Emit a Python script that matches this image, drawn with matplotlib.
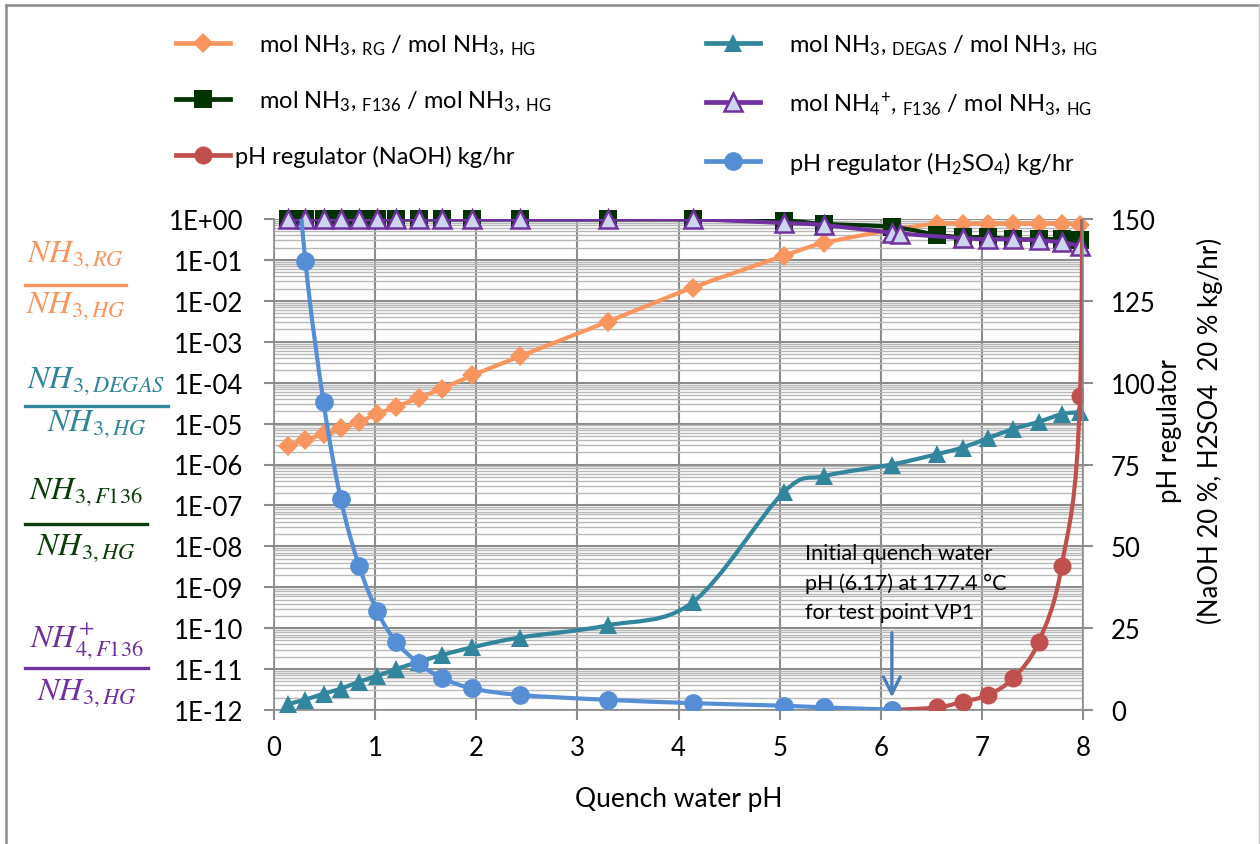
import numpy as np
import matplotlib
matplotlib.use('Agg')
import matplotlib.pyplot as plt
from matplotlib.path import Path
from matplotlib.patches import PathPatch
from matplotlib.lines import Line2D
from matplotlib.ticker import FixedLocator, LogLocator, FuncFormatter, NullFormatter

plt.rcParams['font.family'] = ['Lato', 'DejaVu Sans']
plt.rcParams['mathtext.fontset'] = 'custom'
plt.rcParams['mathtext.rm'] = 'Lato'
plt.rcParams['mathtext.it'] = 'Lato:italic'

# --- data ---
ph = [0.14, 0.31, 0.49, 0.66, 0.84, 1.02, 1.21, 1.43, 1.66, 1.96, 2.43, 3.30,
      4.14, 5.04, 5.44, 6.11, 6.56, 6.81, 7.06, 7.31, 7.56, 7.79, 7.97]
nh3_rg = [2.9e-6, 4.0e-6, 5.5e-6, 7.6e-6, 1.1e-5, 1.7e-5, 2.6e-5, 4.2e-5, 7.2e-5,
          1.5e-4, 4.4e-4, 3.1e-3, 2.1e-2, 0.126, 0.26, 0.54, 0.77, 0.77, 0.77,
          0.77, 0.77, 0.77, 0.72]
nh3_degas = [1.4e-12, 1.8e-12, 2.5e-12, 3.3e-12, 4.9e-12, 6.8e-12, 1.0e-11, 1.5e-11,
             2.2e-11, 3.4e-11, 5.9e-11, 1.17e-10, 4.3e-10, 2.1e-7, 5.2e-7, 1.0e-6,
             1.8e-6, 2.6e-6, 4.4e-6, 7.4e-6, 1.1e-5, 1.7e-5, 1.9e-5]
nh3_f136 = [0.98, 0.98, 0.98, 0.98, 0.98, 0.98, 0.98, 0.98, 0.98, 0.98, 0.98, 0.98,
            0.98, 0.91, 0.76, 0.64, 0.41, 0.36, 0.36, 0.32, 0.32, 0.32, 0.30]
ph_nh4 = [0.14, 0.31, 0.49, 0.66, 0.84, 1.02, 1.21, 1.43, 1.66, 1.96, 2.43, 3.30,
          4.14, 5.04, 5.44, 6.11, 6.19, 6.81, 7.06, 7.31, 7.56, 7.79, 7.97]
nh4_f136 = [0.98, 0.98, 0.98, 0.98, 0.98, 0.98, 0.98, 0.98, 0.98, 0.98, 0.98, 0.98,
            0.98, 0.80, 0.71, 0.46, 0.44, 0.34, 0.32, 0.32, 0.30, 0.27, 0.22]
ph_naoh = [6.11, 6.56, 6.81, 7.06, 7.31, 7.56, 7.79, 7.97, 8.0]
naoh = [0, 0.8, 2.5, 4.6, 9.7, 20.7, 44.1, 95.8, 250]
ph_h2so4 = [0.14, 0.31, 0.49, 0.66, 0.84, 1.02, 1.21, 1.43, 1.66, 1.96, 2.43, 3.30,
            4.14, 5.04, 5.44, 6.11]
h2so4 = [200, 137.3, 94.0, 64.5, 44.1, 30.2, 20.7, 14.3, 9.8, 6.6, 4.6, 3.1,
         2.1, 1.3, 0.8, 0.1]

c_rg, c_degas, c_f136, c_nh4 = '#F9955E', '#31859C', '#003300', '#7030A0'
c_naoh, c_h2so4 = '#C0504D', '#558ED5'
grey = '#8C8C8C'


def smooth(ax, x, y, color, z, logy=False, lw=3.0):
    # Excel style smoothed line: cubic bezier through the points
    x = np.asarray(x, float)
    y = np.log10(y) if logy else np.asarray(y, float)
    pts = np.column_stack([x, y])
    n = len(pts)
    verts = [pts[0]]
    codes = [Path.MOVETO]
    for i in range(n - 1):
        p0, p1 = pts[max(i - 1, 0)], pts[i]
        p2, p3 = pts[i + 1], pts[min(i + 2, n - 1)]
        verts += [p1 + (p2 - p0) / 6, p2 - (p3 - p1) / 6, p2]
        codes += [Path.CURVE4] * 3
    verts = np.array(verts)
    if logy:
        verts[:, 1] = 10 ** verts[:, 1]
    ax.add_patch(PathPatch(Path(verts, codes), fill=False, ec=color, lw=lw,
                           zorder=z, capstyle='round', joinstyle='round'))


W, H = 1260, 845
fig = plt.figure(figsize=(W / 100, H / 100), dpi=100)
ax = fig.add_axes([274 / W, 134 / H, 809 / W, 491 / H])

ax.set_yscale('log')
ax.set_ylim(1e-12, 1)
ax.set_xlim(0, 8)
ax.set_xticks(range(9))
ax.yaxis.set_major_locator(FixedLocator(10.0 ** np.arange(-12, 1)))
ax.yaxis.set_major_formatter(FuncFormatter(lambda v, p: f'{v:.0E}'))
ax.yaxis.set_minor_locator(LogLocator(base=10, subs=np.arange(2, 10), numticks=100))
ax.yaxis.set_minor_formatter(NullFormatter())
ax.set_axisbelow(True)
ax.grid(True, which='major', axis='both', color=grey, lw=1.5)
ax.grid(True, which='minor', axis='y', color='#B8B8B8', lw=1.0)
ax.tick_params(which='major', length=7, width=1.5, color=grey, labelsize=18.5)
ax.tick_params(which='minor', length=0)
ax.tick_params(axis='y', pad=15)
ax.tick_params(axis='x', pad=11)
for s in ['top', 'right']:
    ax.spines[s].set_visible(False)
for s in ['left', 'bottom']:
    ax.spines[s].set_color(grey)
    ax.spines[s].set_linewidth(1.2)

# NH3 ratio series (left, log)
smooth(ax, ph, nh3_rg, c_rg, 2, logy=True)
ax.plot(ph, nh3_rg, ls='none', marker='D', ms=10, color=c_rg, mew=0, zorder=2.5, clip_on=False)
smooth(ax, ph, nh3_degas, c_degas, 3, logy=True)
ax.plot(ph, nh3_degas, ls='none', marker='^', ms=13, color=c_degas, mew=0, zorder=3.5, clip_on=False)
smooth(ax, ph, nh3_f136, c_f136, 4, logy=True)
ax.plot(ph, nh3_f136, ls='none', marker='s', ms=12.5, color=c_f136, mew=0, zorder=4.5, clip_on=False)
smooth(ax, ph_nh4, nh4_f136, c_nh4, 5, logy=True)
ax.plot(ph_nh4, nh4_f136, ls='none', marker='^', ms=13, mfc='#CDD5EE', mec=c_nh4, mew=1.8,
        zorder=5.5, clip_on=False)

# pH regulator series (right, linear)
ax2 = ax.twinx()
ax2.set_ylim(0, 150)
ax2.set_yticks(range(0, 151, 25))
ax2.tick_params(length=7, width=1.5, color=grey, labelsize=18.5, pad=13)
for s in ['top', 'left', 'bottom']:
    ax2.spines[s].set_visible(False)
ax2.spines['right'].set_color(grey)
ax2.spines['right'].set_linewidth(1.2)

smooth(ax2, ph_naoh, naoh, c_naoh, 2)
ax2.plot(ph_naoh, naoh, ls='none', marker='o', ms=13, color=c_naoh, mew=0, zorder=2.5)
smooth(ax2, ph_h2so4, h2so4, c_h2so4, 3)
ax2.plot(ph_h2so4, h2so4, ls='none', marker='o', ms=13.5, color=c_h2so4, mew=0, zorder=3.5)

# annotation
ax.annotate('', xy=(ph_h2so4[-1], 0.02), xytext=(ph_h2so4[-1], 0.163),
            xycoords=('data', 'axes fraction'), textcoords=('data', 'axes fraction'),
            arrowprops=dict(arrowstyle='->, head_length=1.2, head_width=0.6',
                            color='#4A7EBB', lw=2.4), zorder=10)
ax.text(0.656, 0.34, 'Initial quench water\npH (6.17) at 177.4 °C\nfor test point VP1',
        transform=ax.transAxes, ha='left', va='top', fontsize=15.5, linespacing=1.55, zorder=10)

# axis titles
fig.text(678.5 / W, 1 - 800 / H, 'Quench water pH', ha='center', va='center', fontsize=19)
fig.text(1170 / W, 1 - 431 / H, 'pH regulator', rotation=90, ha='center', va='center', fontsize=18.5)
fig.text(1210 / W, 1 - 431 / H, '(NaOH 20 %, H2SO4  20 % kg/hr)', rotation=90,
         ha='center', va='center', fontsize=18.5)

# left-hand fraction labels
def frac(num, den, color, x1, y_num, y_bar, y_den):
    cx = (25 + x1) / 2 / W
    fig.text(cx, 1 - y_num / H, num, color=color, ha='center', va='baseline',
             fontsize=23, math_fontfamily='stix')
    fig.add_artist(Line2D([25 / W, x1 / W], [1 - y_bar / H] * 2, color=color, lw=2.4,
                          transform=fig.transFigure))
    fig.text(cx, 1 - y_den / H, den, color=color, ha='center', va='baseline',
             fontsize=23, math_fontfamily='stix')


frac(r'$NH_{3,RG}$', r'$NH_{3,HG}$', c_rg, 126, 262, 286, 313)
frac(r'$NH_{3,DEGAS}$', r'$NH_{3,HG}$', c_degas, 168, 388, 407, 431)
frac(r'$NH_{3,F136}$', r'$NH_{3,HG}$', '#0B3D0B', 147, 499, 525, 555)
frac(r'$NH_{4,F136}^{+}$', r'$NH_{3,HG}$', c_nh4, 148, 648, 669, 700)

# legend
def h(color, **kw):
    return Line2D([], [], color=color, lw=3.4, **kw)


s3 = r'$_{\mathdefault{3}}$'
col1 = [h(c_rg, marker='D', ms=10, mew=0),
        h(c_f136, marker='s', ms=12.5, mew=0),
        h(c_naoh, marker='o', ms=13, mew=0)]
lab1 = ['    mol NH' + s3 + r', $_{\mathdefault{RG}}$ / mol NH' + s3 + r', $_{\mathdefault{HG}}$',
        '    mol NH' + s3 + r', $_{\mathdefault{F136}}$ / mol NH' + s3 + r', $_{\mathdefault{HG}}$',
        'pH regulator (NaOH) kg/hr']
col2 = [h(c_degas, marker='^', ms=13, mew=0),
        h(c_nh4, marker='^', ms=13, mfc='#CDD5EE', mec=c_nh4, mew=1.8),
        h(c_h2so4, marker='o', ms=13.5, mew=0)]
lab2 = ['    mol NH' + s3 + r', $_{\mathdefault{DEGAS}}$ / mol NH' + s3 + r', $_{\mathdefault{HG}}$',
        r'    mol NH$_{\mathdefault{4}}$$^{\mathdefault{+}}$, $_{\mathdefault{F136}}$ / mol NH' + s3
        + r', $_{\mathdefault{HG}}$',
        r'    pH regulator (H$_{\mathdefault{2}}$SO$_{\mathdefault{4}}$) kg/hr']
for hs, ls, x0 in [(col1, lab1, 176), (col2, lab2, 706)]:
    fig.legend(hs, ls, loc='upper left', bbox_to_anchor=(x0 / W, 1 - 34 / H),
               frameon=False, fontsize=17, borderpad=0, borderaxespad=0,
               handlelength=2.3, handletextpad=0.2, labelspacing=1.35)

# outer border
bt = 1 - 6 / H
fig.add_artist(Line2D([6 / W, 6 / W], [0, bt], color=grey, lw=1.8, transform=fig.transFigure))
fig.add_artist(Line2D([6 / W, 1259 / W], [bt, bt], color=grey, lw=1.8, transform=fig.transFigure))
fig.add_artist(Line2D([1258.5 / W] * 2, [0, bt], color='#C8C8C8', lw=1, transform=fig.transFigure))

fig.savefig('out.png', dpi=100)
